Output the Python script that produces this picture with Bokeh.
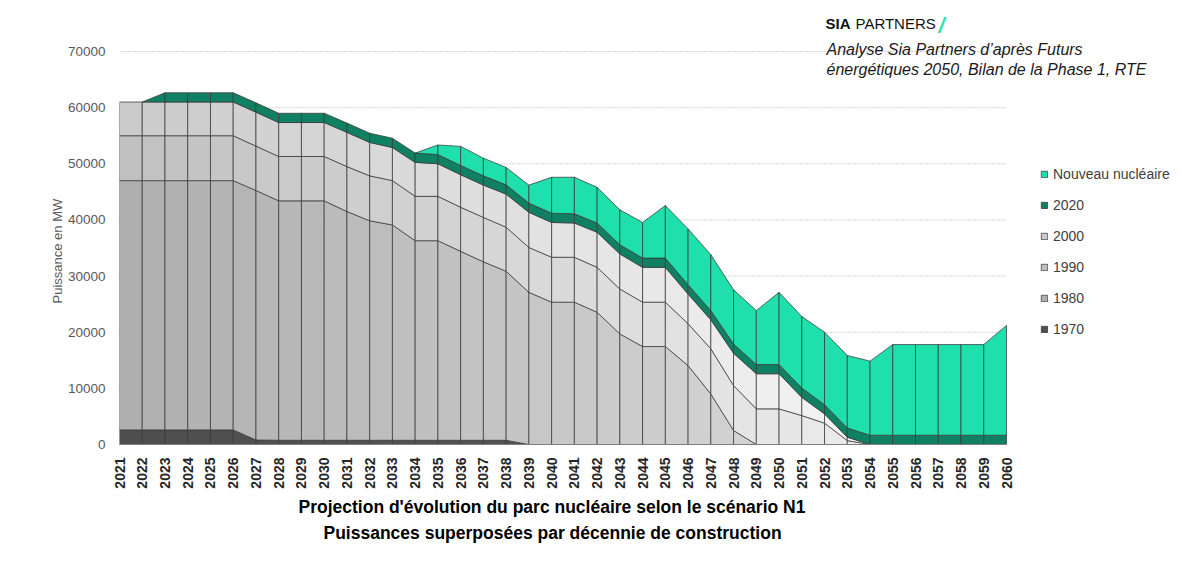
import math
import numpy as np
from bokeh.plotting import figure
from bokeh.models import ColumnDataSource, FixedTicker, Legend, LegendItem, Label, Title
from bokeh.embed import file_html
from bokeh.resources import INLINE

# ---------------- data (MW by decade of construction) ----------------
years = list(range(2021, 2061))

s1970 = [2600] * 6 + [800] + [750] * 11 + [0] * 22

s1980 = ([44400] * 6 + [44450] + [42650] * 3 +
         [40750, 39100, 38350, 35550, 35550, 33650, 31800, 30100,
          27100, 25350, 25350, 23550, 19700, 17450, 17450, 14050, 9000, 2500] +
         [0] * 12)

s1990 = ([8000] * 6 + [7900] + [7900] * 3 +
         [8000, 8000, 7900, 7900, 7900, 7850, 7900, 7850,
          8000, 8000, 8000, 8000, 8000, 7900, 7900, 7450, 8050, 8000,
          6350, 6350, 5150, 3800, 700] + [0] * 7)

s2000 = ([6000] * 6 + [6050] + [6050] * 3 +
         [6100, 5950, 5900, 6050, 5800, 5800, 5750, 5900,
          6250, 6200, 6100, 6250, 6250, 6200, 6200, 5300, 5150, 5750,
          6250, 6250, 3250, 1650, 600] + [0] * 7)

s2020 = [0] * 2 + [1650] * 38

s_new = ([0] * 14 +
         [1700, 3400, 3150, 3100, 3200, 6400, 6500, 6350, 6200, 6350,
          9350, 9950, 9950, 9650, 9600, 12850, 12750, 12900, 12900, 13200] +
         [16150] * 5 + [19550])

series_names = ["1970", "1980", "1990", "2000", "2020", "Nouveau nucléaire"]
series_values = [s1970, s1980, s1990, s2000, s2020, s_new]
# colour at left end / right end of the horizontal gradient
series_colors = [("#4e4e4e", "#5a5a5a"),
                 ("#aeaeae", "#e2e2e2"),
                 ("#c0c0c0", "#f4f4f4"),
                 ("#cacaca", "#fcfcfc"),
                 ("#108062", "#108062"),
                 ("#1fe0ad", "#1fe0ad")]

y_ticks = list(range(0, 70001, 10000))

title_1 = "Projection d'évolution du parc nucléaire selon le scénario N1"
title_2 = "Puissances superposées par décennie de construction"
y_title = "Puissance en MW"
source_1 = "Analyse Sia Partners d’après Futurs"
source_2 = "énergétiques 2050, Bilan de la Phase 1, RTE"


def mix(c0, c1, t):
    a = [int(c0[i:i + 2], 16) for i in (1, 3, 5)]
    b = [int(c1[i:i + 2], 16) for i in (1, 3, 5)]
    return "#%02x%02x%02x" % tuple(round(a[k] + (b[k] - a[k]) * t) for k in range(3))


FONT = "Liberation Sans"

# layout: plot area 2021..2060 spans x 119..1006 px, 0..70000 spans y 444..51 px.
# The frame is extended to the right and to the top so that legend and notes fit inside it.
PX_PER_YEAR = 887 / 39
PX_PER_MW = 393 / 70000
x_end = 2060 + 194 / PX_PER_YEAR
y_end = 70000 + 51 / PX_PER_MW

p = figure(width=1200, height=563, x_range=(2021, x_end), y_range=(0, y_end),
           output_backend="svg", toolbar_location=None,
           min_border_left=119, min_border_right=0,
           min_border_top=0, min_border_bottom=119)
p.outline_line_color = None
p.background_fill_color = "white"
p.xgrid.visible = False
p.ygrid.visible = False

# dotted horizontal grid lines limited to the plotted years
p.segment(x0=years[0], y0=y_ticks, x1=years[-1], y1=y_ticks,
          line_color="#a8a8a8", line_dash="1 2", line_width=1)

# ---------------- stacked areas, one polygon per year interval ----------------
x = np.array(years, dtype=float)
base = np.zeros(len(years))
renderers = {}
n = len(years)
for name, vals, (c0, c1) in zip(series_names, series_values, series_colors):
    v = np.array(vals, dtype=float)
    top = base + v
    xs, ys, cols = [], [], []
    for i in range(n - 1):
        if v[i] == 0 and v[i + 1] == 0:
            continue
        xs.append([x[i], x[i + 1], x[i + 1], x[i]])
        ys.append([base[i], base[i + 1], top[i + 1], top[i]])
        cols.append(mix(c0, c1, (i + 0.5) / (n - 1)))
    src = ColumnDataSource(dict(xs=xs, ys=ys, color=cols))
    renderers[name] = p.patches("xs", "ys", source=src, fill_color="color",
                                line_color="#3a3a3a", line_alpha=0.75, line_width=1)
    base = top

# ---------------- axes ----------------
xa = p.xaxis[0]
xa.ticker = FixedTicker(ticks=years)
xa.bounds = (2021, 2060)
xa.major_label_orientation = math.pi / 2
xa.major_label_text_font = FONT
xa.major_label_text_font_style = "bold"
xa.major_label_text_font_size = "14px"
xa.major_label_text_color = "#262626"
xa.major_tick_line_color = None
xa.minor_tick_line_color = None
xa.axis_line_color = "#7f7f7f"
xa.major_label_standoff = 7

ya = p.yaxis[0]
ya.ticker = FixedTicker(ticks=y_ticks)
ya.axis_line_color = None
ya.major_tick_line_color = None
ya.minor_tick_line_color = None
ya.major_label_text_font = FONT
ya.major_label_text_font_size = "13.5px"
ya.major_label_text_color = "#595959"
ya.major_label_standoff = 8

FL, FB = 119, 444  # frame left / bottom in canvas pixels

p.add_layout(Title(text=y_title, align="left", offset=FB - 303, standoff=0,
                   text_font=FONT, text_font_size="13px", text_font_style="normal",
                   text_color="#595959"), "left")

# titles below the x axis
p.add_layout(Title(text=title_1, align="left", offset=298 - FL, standoff=6,
                   text_font=FONT, text_font_size="17.5px", text_font_style="bold",
                   text_color="#000000"), "below")
p.add_layout(Title(text=title_2, align="left", offset=323 - FL, standoff=2,
                   text_font=FONT, text_font_size="17.5px", text_font_style="bold",
                   text_color="#000000"), "below")

# ---------------- legend ----------------
items = [LegendItem(label=nm, renderers=[renderers[nm]]) for nm in reversed(series_names)]
legend = Legend(items=items, location=(921, 105), glyph_width=8, glyph_height=8,
                label_text_font=FONT, label_text_font_size="14px",
                label_text_color="#404040", spacing=11, padding=0, margin=0,
                label_height=20, label_standoff=5,
                border_line_color=None, background_fill_alpha=0)
p.add_layout(legend)

# ---------------- notes (screen units relative to the frame) ----------------


def lab(px, py, text, **kw):
    p.add_layout(Label(x=px - FL, y=FB - py, x_units="screen", y_units="screen",
                       text=text, text_font=kw.pop("font", FONT), **kw))


lab(826, 49, source_1, text_align="left", text_baseline="middle",
    text_font_size="16px", text_font_style="italic", text_color="#1a1a1a")
lab(826, 69, source_2, text_align="left", text_baseline="middle",
    text_font_size="16px", text_font_style="italic", text_color="#1a1a1a")

lab(825, 23, "SIA", text_align="left", text_baseline="middle",
    text_font_size="15px", text_font_style="bold", text_color="#111111")
lab(855, 23, "PARTNERS", text_align="left", text_baseline="middle",
    text_font_size="15px", text_font_style="normal", text_color="#111111")
lab(938, 25, "/", text_align="left", text_baseline="middle",
    text_font_size="22px", text_font_style="bold italic", text_color="#2ee3b2")

open("out.html", "w").write(file_html(p, INLINE))
